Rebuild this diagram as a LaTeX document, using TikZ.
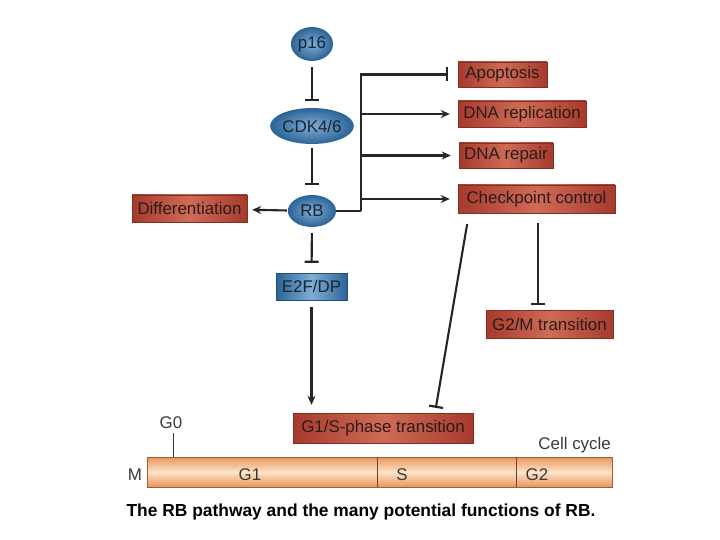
\documentclass[tikz,border=0pt]{standalone}
\usepackage{fontspec}
\setmainfont{Liberation Sans}
\usetikzlibrary{arrows.meta,shapes.geometric,calc}
\definecolor{blueD}{HTML}{2C6396}
\definecolor{blueL}{HTML}{7FAED4}
\definecolor{redD}{HTML}{A63A2D}
\definecolor{redL}{HTML}{CF6B56}
\definecolor{barD}{HTML}{E8955C}
\definecolor{barL}{HTML}{FDE3C8}
\definecolor{barE}{HTML}{9A6038}
\definecolor{txtD}{HTML}{2A1C1A}
\definecolor{txtB}{HTML}{182638}
\definecolor{lineC}{HTML}{262626}
\definecolor{greyT}{HTML}{3A3A3A}
\begin{document}
\begin{tikzpicture}[x=1pt,y=-1pt,
  every node/.style={font=\fontsize{16.9}{18}\selectfont, inner sep=0pt},
  prot/.style={ellipse, shading=radial, inner color=blueL, outer color=blueD, text=txtB},
  bluebox/.style={rectangle, left color=blueD, right color=blueD, middle color=blueL, text=txtB, draw=blueD!80!black, line width=0.4pt},
  redbox/.style={rectangle, left color=redD, right color=redD, middle color=redL, text=txtD, draw=redD!80!black, line width=0.4pt},
  lab/.style={text=greyT},
  arr/.style={draw=lineC, line width=2.1pt, -{Stealth[length=9pt,width=8pt]}},
  inh/.style={draw=lineC, line width=2.1pt, -{Bar[width=14pt,line width=2.2pt]}},
  plain/.style={draw=lineC, line width=2.1pt},
]
\useasboundingbox[fill=white] (0,0) rectangle (720,540);

% nodes
\node[prot, minimum width=42pt, minimum height=34pt] (p16) at (312,44) {p16};
\node[prot, minimum width=80pt, minimum height=36pt] (cdk) at (312,126) {CDK4/6};
\node[prot, minimum width=48pt, minimum height=32pt] (rb) at (312,211) {RB};
\node[bluebox, minimum width=71pt, minimum height=27pt] (e2f) at (311.5,286.5) {E2F/DP};
\node[redbox, minimum width=115pt, minimum height=27pt] (diff) at (189.5,208.5) {Differentiation};
\node[redbox, minimum width=89pt, minimum height=25pt] (apop) at (502.5,74.5) {Apoptosis};
\node[redbox, minimum width=128pt, minimum height=26pt] (dnarep) at (522,114) {DNA replication};
\node[redbox, minimum width=94pt, minimum height=25pt] (repair) at (506,155.5) {DNA repair};
\node[redbox, minimum width=157pt, minimum height=28pt] (chk) at (536.5,199) {Checkpoint control};
\node[redbox, minimum width=127pt, minimum height=28pt] (g2m) at (549.5,324) {G2/M transition};
\node[redbox, minimum width=180pt, minimum height=30pt] (g1s) at (383,428) {G1/S-phase transition};

% cell cycle bar
\node[rectangle, minimum width=465pt, minimum height=30pt, top color=barD, bottom color=barD, middle color=barL, draw=barE, line width=0.6pt] (bar) at (379.5,472) {};
\coordinate (d1) at (377,472);
\coordinate (d2) at (516,472);
\draw[draw=barE!70!black, line width=0.8pt] (d1 |- bar.north) -- (d1 |- bar.south);
\draw[draw=barE!70!black, line width=0.8pt] (d2 |- bar.north) -- (d2 |- bar.south);
\node[lab] (lm) at (135,475) {M};
\node[lab] (lg1) at (250,475) {G1};
\node[lab] (ls) at (402,475) {S};
\node[lab] (lg2) at (537,475) {G2};
\node[lab, anchor=east] (lcc) at (611,445) {Cell cycle};
\node[lab] (lg0) at (171,423) {G0};
\coordinate (g0top) at (173,433);
\draw[draw=greyT, line width=0.8pt] (g0top) -- (g0top |- bar.north);

% caption
\node[font=\fontsize{17.4}{19}\selectfont\bfseries, text=black] (cap) at (361,512) {The RB pathway and the many potential functions of RB.};

% connectors
\draw[inh, shorten <=6pt, shorten >=7pt] (p16) -- (cdk);
\draw[inh, shorten <=4pt, shorten >=10pt] (cdk) -- (rb);
\draw[inh, shorten <=6pt, shorten >=10pt] (rb) -- (e2f);
\draw[arr, shorten <=1pt, shorten >=5pt] (rb) -- (diff);
\coordinate (trunk) at (361,211);
\draw[plain] (rb.east) -- (trunk);
\draw[inh, shorten >=10pt] (trunk) |- (apop);
\draw[arr, shorten >=8pt] (trunk |- dnarep) -- (dnarep);
\draw[arr, shorten >=8pt] (trunk |- repair) -- (repair);
\draw[arr, shorten >=8pt] (trunk |- chk) -- (chk);
\draw[arr, shorten <=7pt, shorten >=8pt] (e2f.south) -- (e2f.south |- g1s.north);
\draw[inh, shorten <=11pt, shorten >=5pt] ([xshift=-67.5pt]chk.south) -- ([xshift=52pt]g1s.north);
\draw[inh, shorten <=10pt, shorten >=5pt] ([xshift=1.5pt]chk.south) -- ([xshift=1.5pt]chk.south |- g2m.north);
\end{tikzpicture}
\end{document}
